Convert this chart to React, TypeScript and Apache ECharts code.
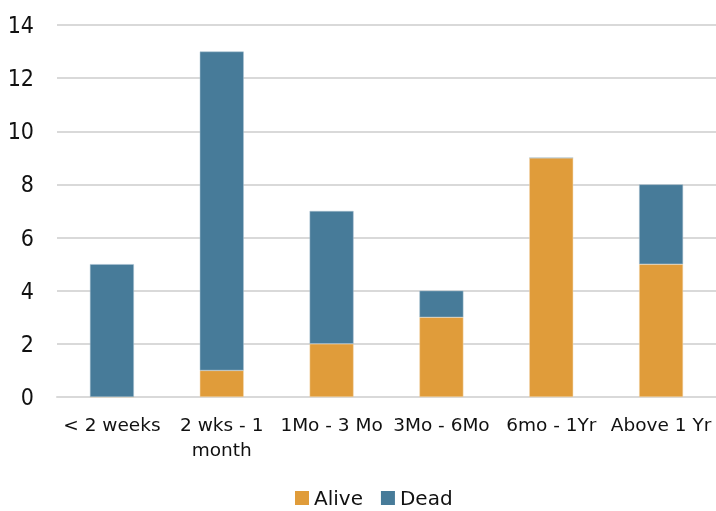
import React, { useEffect, useRef } from "react";
import * as echarts from "echarts";

const categories = ["< 2 weeks", "2 wks - 1 month", "1Mo - 3 Mo", "3Mo - 6Mo", "6mo - 1Yr", "Above 1 Yr"];
const alive = [0, 1, 2, 3, 9, 5];
const dead = [5, 12, 5, 1, 0, 3];
const yTicks = { min: 0, max: 14, interval: 2 };

const FONT = "DejaVu Sans";
const FONT_C = "DejaVu Sans Condensed, DejaVu Sans";

export default function App() {
  const ref = useRef<HTMLDivElement>(null);
  useEffect(() => {
    if (!ref.current) return;
    document.body.style.margin = "0";
    document.body.style.overflow = "hidden";
    const chart = echarts.init(ref.current, null, { renderer: "svg" });
    chart.setOption({
      animation: false,
      textStyle: { fontFamily: FONT },
      grid: { left: 57, right: 0, top: 25, bottom: 114 },
      legend: {
        top: 488,
        left: 295,
        padding: 0,
        itemWidth: 14,
        itemHeight: 14,
        itemGap: 18,
        icon: "rect",
        itemStyle: { borderWidth: 0 },
        textStyle: { fontFamily: FONT, fontSize: 20, lineHeight: 20, color: "#111" },
        data: ["Alive", "Dead"],
      },
      xAxis: {
        type: "category",
        data: categories,
        axisLine: { lineStyle: { color: "#d9d9d9", width: 2 } },
        axisTick: { show: false },
        axisLabel: {
          interval: 0,
          margin: 15,
          fontFamily: FONT,
          fontSize: 18.5,
          lineHeight: 25,
          color: "#111",
          formatter: (v: string) => (v === "2 wks - 1 month" ? "2 wks - 1\nmonth" : v),
        },
      },
      yAxis: {
        type: "value",
        min: yTicks.min,
        max: yTicks.max,
        interval: yTicks.interval,
        axisLine: { show: false },
        axisTick: { show: false },
        splitLine: { lineStyle: { color: "#d9d9d9", width: 2 } },
        axisLabel: { margin: 23, fontFamily: FONT_C, fontSize: 23, color: "#111" },
      },
      series: [
        {
          name: "Alive",
          type: "bar",
          stack: "total",
          data: alive,
          barWidth: "40%",
          itemStyle: { color: "#E09C3A", borderColor: "#f3d9b0", borderWidth: 0.5 },
        },
        {
          name: "Dead",
          type: "bar",
          stack: "total",
          data: dead,
          barWidth: "40%",
          itemStyle: { color: "#477B99", borderColor: "#a8c0d0", borderWidth: 0.5 },
        },
      ],
    });
    return () => chart.dispose();
  }, []);
  return <div ref={ref} style={{ position: "fixed", left: 0, top: 0, width: 716, height: 511 }} />;
}
